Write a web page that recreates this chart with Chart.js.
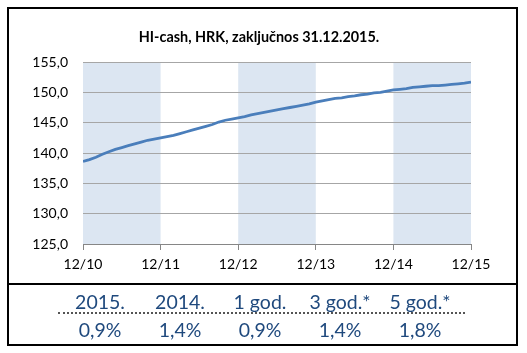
<!DOCTYPE html>
<html><head><meta charset="utf-8">
<script src="https://cdn.jsdelivr.net/npm/chart.js@4.4.1/dist/chart.umd.min.js"></script>
<style>
html,body{margin:0;padding:0;background:#fff;width:527px;height:353px;overflow:hidden;}
#frame{position:absolute;left:7px;top:7px;width:511px;height:339px;border:2px solid #000;box-sizing:border-box;}
#divider{position:absolute;left:7px;top:283px;width:511px;height:2px;background:#000;}
#wrap{position:absolute;left:0;top:0;width:527px;height:353px;}
#title{position:absolute;left:59px;width:400px;top:28px;text-align:center;font-family:Lato,"Liberation Sans",sans-serif;font-weight:bold;font-size:14.4px;line-height:18px;color:#000;}
.cell{position:absolute;width:80px;text-align:center;font-family:Lato,"Liberation Sans",sans-serif;font-size:19.5px;color:#1F497D;line-height:24px;}
#dots{position:absolute;left:58px;top:312px;width:407px;height:0;border-top:2px dotted #555;}
</style></head>
<body>
<div id="wrap"><canvas id="c" width="527" height="353"></canvas></div>
<div id="frame"></div>
<div id="divider"></div>
<div id="title"></div>
<div id="table"></div>
<div id="dots"></div>
<script>
const title = 'HI-cash, HRK, zaključnos 31.12.2015.';
const tickLabels = ['12/10','12/11','12/12','12/13','12/14','12/15'];
const yTicks = [125,130,135,140,145,150,155];
const shadedYears = [0,2,4];
const values = [
 138.6,138.9,139.3,139.8,140.2,140.6,140.9,141.2,141.5,141.8,142.1,142.3,142.5,
 142.7,142.9,143.2,143.5,143.8,144.1,144.4,144.7,145.1,145.4,145.6,145.8,
 146.0,146.3,146.5,146.7,146.9,147.1,147.3,147.5,147.7,147.9,148.1,148.4,
 148.6,148.8,149.0,149.1,149.3,149.4,149.6,149.7,149.9,150.0,150.2,150.4,
 150.5,150.6,150.8,150.9,151.0,151.1,151.1,151.2,151.3,151.4,151.5,151.7
];
const tableHeaders = ['2015.','2014.','1 god.','3 god.*','5 god.*'];
const tableValues = ['0,9%','1,4%','0,9%','1,4%','1,8%'];

document.getElementById('title').textContent = title;
const tbl = document.getElementById('table');
tableHeaders.forEach((h,i)=>{
  const d=document.createElement('div');d.className='cell';d.textContent=h;
  d.style.left=(60+i*80)+'px';d.style.top='290px';tbl.appendChild(d);
  const v=document.createElement('div');v.className='cell';v.textContent=tableValues[i];
  v.style.left=(60+i*80)+'px';v.style.top='318px';tbl.appendChild(v);
});

const perYear = 12;
const bands = {
  id:'bands',
  beforeDraw(chart){
    const {ctx, chartArea:a, scales:{x}} = chart;
    ctx.save();
    ctx.fillStyle='#DCE6F2';
    shadedYears.forEach(k=>{
      const x0=x.getPixelForValue(k*perYear), x1=x.getPixelForValue((k+1)*perYear);
      ctx.fillRect(x0,a.top,x1-x0,a.bottom-a.top);
    });
    ctx.restore();
  }
};

new Chart(document.getElementById('c'),{
  type:'line',
  data:{datasets:[{
    data: values.map((v,i)=>({x:i,y:v})),
    borderColor:'#4A7EBB',borderWidth:2.8,pointRadius:0,tension:0,fill:false
  }]},
  options:{
    responsive:false,animation:false,
    layout:{padding:{left:0,right:56,top:62,bottom:0}},
    plugins:{legend:{display:false},tooltip:{enabled:false},title:{display:false}},
    scales:{
      x:{type:'linear',min:0,max:60,
        afterFit(s){s.height=109;},
        afterBuildTicks(s){s.ticks=tickLabels.map((_,i)=>({value:i*perYear}));},
        ticks:{callback:(v)=>tickLabels[v/perYear],color:'#000',padding:6,maxRotation:0,autoSkip:false,
          font:{family:'Lato, "Liberation Sans", sans-serif',size:14}},
        grid:{drawOnChartArea:false,drawTicks:true,tickLength:6,color:'#868686'},
        border:{display:true,color:'#868686',width:1}
      },
      y:{min:125,max:155,
        afterFit(s){s.width=83;},
        afterBuildTicks(s){s.ticks=yTicks.map(v=>({value:v}));},
        ticks:{callback:(v)=>v.toFixed(1).replace('.',','),color:'#000',padding:15,
          font:{family:'Lato, "Liberation Sans", sans-serif',size:14}},
        grid:{drawTicks:false,color:'#A6A6A6',lineWidth:1},
        border:{display:false}
      }
    }
  },
  plugins:[bands]
});
</script>
</body></html>
